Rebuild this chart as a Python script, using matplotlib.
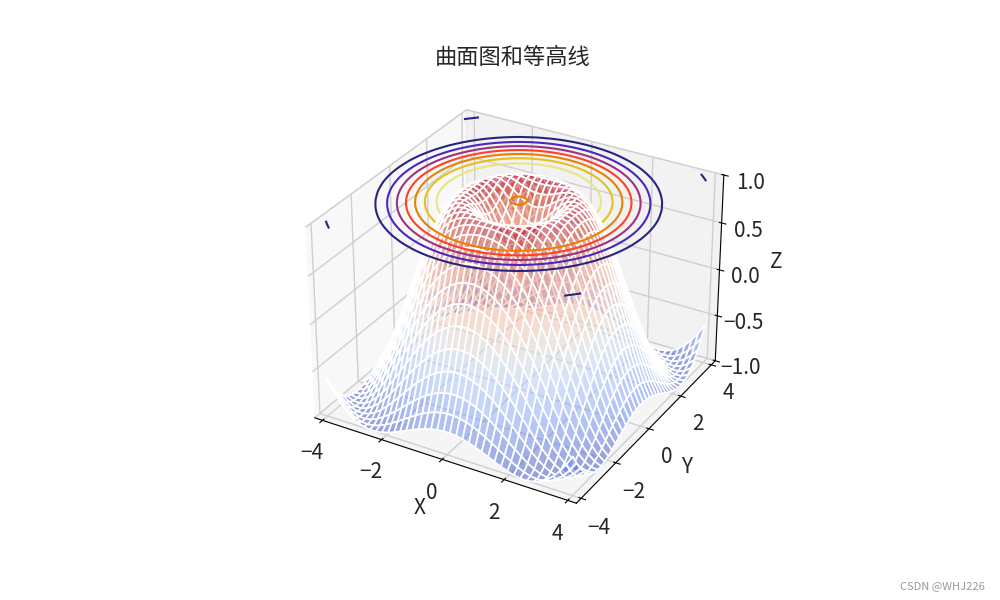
import numpy as np
import matplotlib
matplotlib.use('Agg')
import matplotlib.pyplot as plt

plt.rcParams['font.family'] = ['Noto Sans CJK SC', 'DejaVu Sans']
plt.rcParams['axes.unicode_minus'] = True

title = '曲面图和等高线'
x_ticks = [-4, -2, 0, 2, 4]
y_ticks = [-4, -2, 0, 2, 4]
z_ticks = [-1.0, -0.5, 0.0, 0.5, 1.0]

# levels that end up on top of the surface, and the two that get hidden by it
levels_over = [-0.75, -0.5, -0.25, 0.0, 0.25]
levels_under = [0.5, 0.75]

# grid has 40 points per side, the surface is symmetric in x and y
n_side = 40
x_range = [-4, 4]
y_range = [-4, 4]

# estimated heights for one quadrant, lower triangle (row = y step, col = x step from the centre)
z_rows = [
    [.145],
    [.319, .421],
    [.499, .563, .663],
    [.663, .704, .772, .849],
    [.801, .827, .870, .920, .965],
    [.906, .920, .945, .973, .994, 1.0],
    [.973, .980, .990, .998, .999, .984, .951],
    [1.0, 1.0, .999, .992, .975, .944, .894, .823],
    [.984, .980, .970, .951, .920, .875, .812, .729, .626],
    [.929, .920, .903, .875, .834, .777, .704, .612, .503, .376],
    [.834, .823, .800, .766, .717, .653, .572, .475, .362, .235, .095],
    [.704, .691, .665, .626, .572, .503, .419, .320, .207, .081, -.052, -.193],
    [.545, .531, .503, .461, .405, .334, .249, .151, .041, -.079, -.206, -.335, -.465],
    [.362, .347, .320, .277, .221, .151, .068, -.026, -.130, -.242, -.358, -.476, -.591, -.699],
    [.165, .151, .123, .081, .027, -.040, -.117, -.206, -.301, -.402, -.506, -.608, -.707, -.797, -.874],
    [-.040, -.052, -.079, -.117, -.169, -.230, -.301, -.380, -.465, -.554, -.643, -.729, -.809, -.879, -.936, -.977],
    [-.242, -.254, -.277, -.313, -.358, -.413, -.476, -.545, -.617, -.692, -.764, -.833, -.893, -.943, -.979, -.998, -.997],
    [-.434, -.445, -.465, -.496, -.535, -.582, -.634, -.692, -.751, -.809, -.864, -.914, -.955, -.984, -.999, -.997, -.975, -.934],
    [-.608, -.617, -.634, -.659, -.692, -.729, -.771, -.815, -.859, -.902, -.940, -.970, -.991, -1.0, -.994, -.972, -.931, -.872, -.793],
    [-.757, -.764, -.778, -.797, -.821, -.849, -.879, -.910, -.940, -.965, -.986, -.998, -.999, -.988, -.963, -.922, -.864, -.788, -.695, -.586],
]

quad = np.zeros((n_side // 2, n_side // 2))
for i, row in enumerate(z_rows):
    for j, v in enumerate(row):
        quad[i, j] = v
        quad[j, i] = v
Z = np.block([[quad[::-1, ::-1], quad[::-1, :]],
              [quad[:, ::-1], quad]])

x = np.linspace(x_range[0], x_range[1], n_side)
y = np.linspace(y_range[0], y_range[1], n_side)
X, Y = np.meshgrid(x, y)

fig = plt.figure(figsize=(10, 6), dpi=100)
ax = fig.add_subplot(111, projection='3d', computed_zorder=False)
ax.set_box_aspect((4, 4, 2.9))

cmap = plt.get_cmap('CMRmap')


def level_contour(level, order):
    ax.contour(X, Y, Z, levels=[level], zdir='z', offset=1, linestyles='solid',
               colors=[cmap((level + 1) / 2)], zorder=order)


for lvl in levels_under:
    level_contour(lvl, 1)
ax.plot_surface(X, Y, Z, rstride=1, cstride=1, cmap='coolwarm', edgecolor='w',
                linewidth=1.2, alpha=0.5, zorder=2)
for lvl in levels_over:
    level_contour(lvl, 3)

ax.set_xlim(x_range, view_margin=1/30)
ax.set_ylim(y_range, view_margin=1/30)
ax.set_zlim(-1, 1)
ax.set_xticks(x_ticks)
ax.set_yticks(y_ticks)
ax.set_zticks(z_ticks)
ax.tick_params(labelsize=15, labelcolor='#262626')
ax.set_xlabel('X', fontsize=15, color='#262626')
ax.set_ylabel('Y', fontsize=15, color='#262626')
ax.set_zlabel('Z', fontsize=15, color='#262626')
ax.set_title(title, fontsize=16, y=1.085, color='#262626')

for axis in (ax.xaxis, ax.yaxis, ax.zaxis):
    axis._axinfo['grid']['color'] = '#cfcfcf'
    axis._axinfo['grid']['linewidth'] = 1.0
    axis.pane.set_edgecolor('#dddddd')

fig.text(0.985, 0.024, 'CSDN @WHJ226', ha='right', va='center', fontsize=8, color='#999999')

fig.savefig('out.png', dpi=100)
